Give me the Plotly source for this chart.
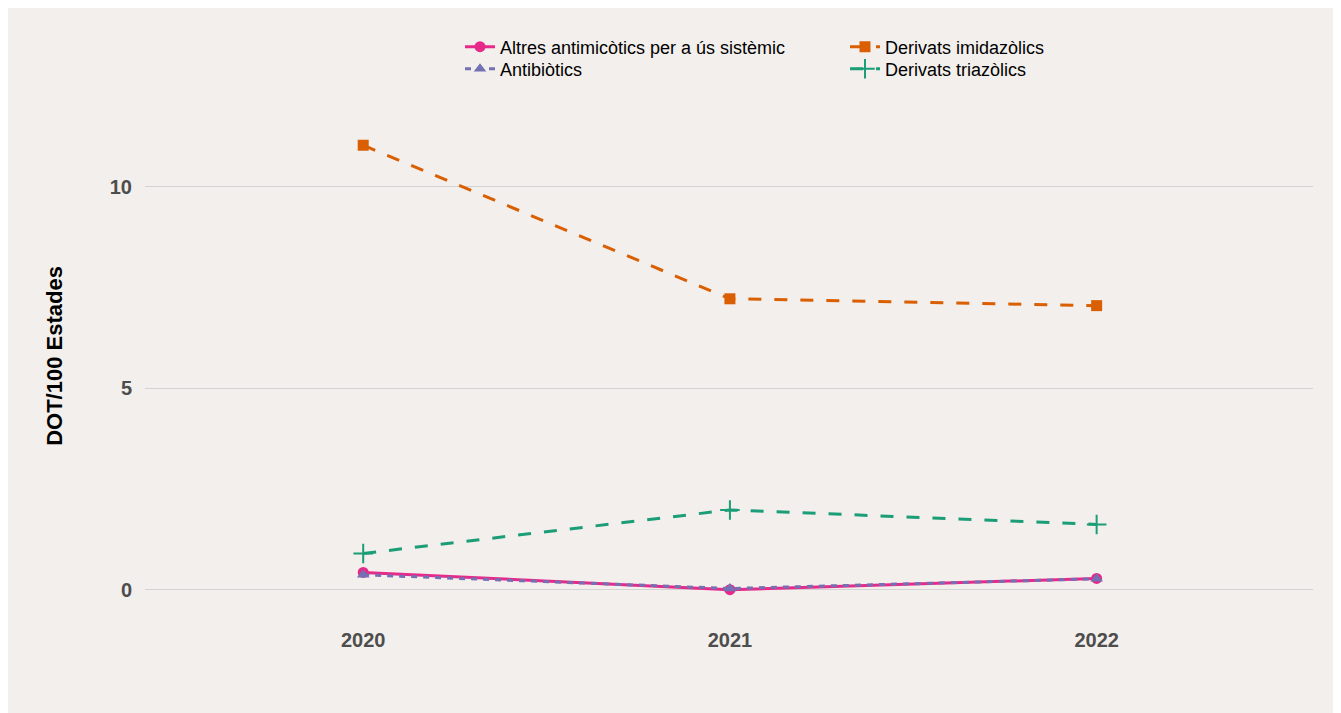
import plotly.graph_objects as go

years = [2020, 2021, 2022]
series_names = [
    "Altres antimicòtics per a ús sistèmic",
    "Antibiòtics",
    "Derivats imidazòlics",
    "Derivats triazòlics",
]
altres = [0.43, 0.0, 0.28]
antibiotics = [0.37, 0.03, 0.27]
imidazolics = [11.03, 7.22, 7.05]
triazolics = [0.90, 1.98, 1.62]

colors = ["#E7298A", "#7570B3", "#D95F02", "#1B9E77"]
dashes = ["solid", "6px,6px", "13px,13px", "13px,13px"]
symbols = ["circle", "triangle-up", "square", "cross-thin"]
legends = ["legend", "legend3", "legend2", "legend4"]
values = [altres, antibiotics, imidazolics, triazolics]

fig = go.Figure()
for name, vals, col, dsh, sym, lg in zip(series_names, values, colors, dashes, symbols, legends):
    fig.add_trace(go.Scatter(
        x=years, y=vals, name=name, mode="lines+markers",
        line=dict(color=col, width=3, dash=dsh),
        marker=dict(symbol=sym, size=14 if sym == "cross-thin" else 11, color=col,
                    line=dict(color=col, width=2 if sym == "cross-thin" else 0)),
        legend=lg,
    ))

bg = "#F3EFEC"
leg_common = dict(orientation="v", yanchor="middle", xanchor="left",
                  font=dict(size=18, color="#000000"),
                  bgcolor="rgba(0,0,0,0)", tracegroupgap=0)
x_col1, x_col2 = 0.2697, 0.5993
y_row1, y_row2 = 1.0722, 1.0315
fig.update_layout(
    width=1341, height=713,
    paper_bgcolor=bg, plot_bgcolor=bg,
    margin=dict(l=137, r=36, t=78, b=95, autoexpand=False),
    font=dict(family="Liberation Sans, Arial, sans-serif"),
    showlegend=True,
    legend=dict(x=x_col1, y=y_row1, **leg_common),
    legend2=dict(x=x_col2, y=y_row1, **leg_common),
    legend3=dict(x=x_col1, y=y_row2, **leg_common),
    legend4=dict(x=x_col2, y=y_row2, **leg_common),
    xaxis=dict(range=[2019.405, 2022.59], tickvals=years, ticktext=[str(y) for y in years],
               showgrid=False, zeroline=False, showline=False,
               tickfont=dict(size=20, color="#4D4D4D", weight="bold")),
    yaxis=dict(range=[-0.9, 12.5], tickvals=[0, 5, 10], showgrid=True, gridcolor="#D3D3D3", gridwidth=1.2,
               zeroline=False, showline=False, ticks="", ticklen=0, ticklabelstandoff=12,
               tickfont=dict(size=20, color="#4D4D4D", weight="bold"),
               title=dict(text="<b>DOT/100 Estades</b>", font=dict(size=22, color="#000000"), standoff=41)),
)

fig.write_html("out.html")
